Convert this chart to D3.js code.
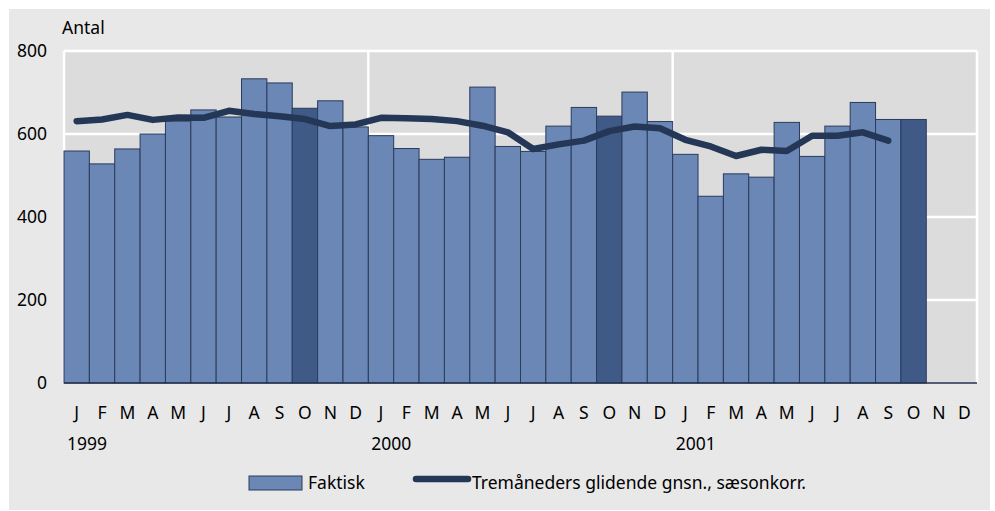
<!DOCTYPE html>
<html>
<head>
<meta charset="utf-8">
<script src="https://cdn.jsdelivr.net/npm/d3@7"></script>
<style>
  html, body { margin: 0; padding: 0; background: #fff; }
  svg { display: block; font-family: "Noto Sans", "Open Sans", sans-serif; }
</style>
</head>
<body>
<svg id="chart" width="995" height="511"></svg>
<script>
const monthLetters = ["J","F","M","A","M","J","J","A","S","O","N","D"];
const years = ["1999", "2000", "2001"];
const yTicks = [0, 200, 400, 600, 800];

// Faktisk (bars), Jan 1999 - Oct 2001
const faktisk = [
  559, 528, 564, 600, 631, 658, 641, 733, 723, 662, 680, 617,
  596, 565, 539, 544, 713, 570, 558, 619, 664, 643, 701, 630,
  551, 450, 504, 496, 628, 546, 619, 676, 635, 635
];
// Tremåneders glidende gnsn., sæsonkorr. (line), Jan 1999 - Sep 2001
const trend = [
  631, 635, 646, 634, 640, 639, 656, 648, 643, 636, 619, 623,
  639, 638, 636, 631, 620, 604, 564, 575, 584, 607, 618, 614,
  586, 570, 547, 562, 559, 596, 596, 604, 584
];
const darkMonth = 9; // oktober markeres mørkt

const svg = d3.select("#chart");
const fs = 17.5;

svg.append("rect")
  .attr("x", 9).attr("y", 9)
  .attr("width", 981).attr("height", 501)
  .attr("fill", "#e8e8e8");

const months = d3.range(years.length * 12);
const x = d3.scaleBand().domain(months).range([64, 977]).padding(0);
const y = d3.scaleLinear().domain([0, 800]).range([383, 51]);

// plot background
svg.append("rect")
  .attr("x", x.range()[0]).attr("y", y(800))
  .attr("width", x.range()[1] - x.range()[0])
  .attr("height", y(0) - y(800))
  .attr("fill", "#dcdcdc");

// grid
svg.append("g")
  .selectAll("line")
  .data(yTicks.filter(d => d > 0))
  .join("line")
  .attr("x1", x.range()[0]).attr("x2", x.range()[1])
  .attr("y1", d => y(d)).attr("y2", d => y(d))
  .attr("stroke", "#fff").attr("stroke-width", 2.5);

svg.append("g")
  .selectAll("line")
  .data(d3.range(0, years.length + 1))
  .join("line")
  .attr("x1", i => i < years.length ? x(i * 12) : x.range()[1])
  .attr("x2", i => i < years.length ? x(i * 12) : x.range()[1])
  .attr("y1", y(800)).attr("y2", y(0))
  .attr("stroke", "#fff").attr("stroke-width", 2.5);

// bars
svg.append("g")
  .selectAll("rect")
  .data(faktisk)
  .join("rect")
  .attr("x", (d, i) => x(i))
  .attr("y", d => y(d))
  .attr("width", x.bandwidth())
  .attr("height", d => y(0) - y(d))
  .attr("fill", (d, i) => i % 12 === darkMonth ? "#405a87" : "#6a87b6")
  .attr("stroke", "#2b3b5c")
  .attr("stroke-width", 1);

// x axis line
svg.append("line")
  .attr("x1", x.range()[0]).attr("x2", x.range()[1])
  .attr("y1", y(0)).attr("y2", y(0))
  .attr("stroke", "#26324d").attr("stroke-width", 1.5);

// trend line
const line = d3.line()
  .x((d, i) => x(i) + x.bandwidth() / 2)
  .y(d => y(d));
svg.append("path")
  .datum(trend)
  .attr("d", line)
  .attr("fill", "none")
  .attr("stroke", "#253756")
  .attr("stroke-width", 6.5)
  .attr("stroke-linecap", "round")
  .attr("stroke-linejoin", "round");

// y labels
svg.append("g")
  .selectAll("text")
  .data(yTicks)
  .join("text")
  .attr("x", 47).attr("y", d => y(d))
  .attr("dy", "0.36em")
  .attr("text-anchor", "end")
  .attr("font-size", fs)
  .text(d => d);

svg.append("text")
  .attr("x", 62).attr("y", 34)
  .attr("font-size", fs)
  .text("Antal");

// month labels
svg.append("g")
  .selectAll("text")
  .data(months)
  .join("text")
  .attr("x", i => x(i) + x.bandwidth() / 2)
  .attr("y", 419)
  .attr("text-anchor", "middle")
  .attr("font-size", fs)
  .text(i => monthLetters[i % 12]);

svg.append("g")
  .selectAll("text")
  .data(years)
  .join("text")
  .attr("x", (d, i) => x(i * 12) + 3)
  .attr("y", 450)
  .attr("font-size", fs)
  .text(d => d);

// legend
const leg = svg.append("g");
leg.append("rect")
  .attr("x", 249).attr("y", 476)
  .attr("width", 53).attr("height", 14)
  .attr("fill", "#6a87b6")
  .attr("stroke", "#2b3b5c").attr("stroke-width", 1);
leg.append("text")
  .attr("x", 308).attr("y", 489)
  .attr("font-size", fs)
  .text("Faktisk");
leg.append("line")
  .attr("x1", 416).attr("x2", 468)
  .attr("y1", 479).attr("y2", 479)
  .attr("stroke", "#253756").attr("stroke-width", 6.5)
  .attr("stroke-linecap", "round");
leg.append("text")
  .attr("x", 472).attr("y", 489)
  .attr("font-size", fs)
  .text("Tremåneders glidende gnsn., sæsonkorr.");
</script>
</body>
</html>
